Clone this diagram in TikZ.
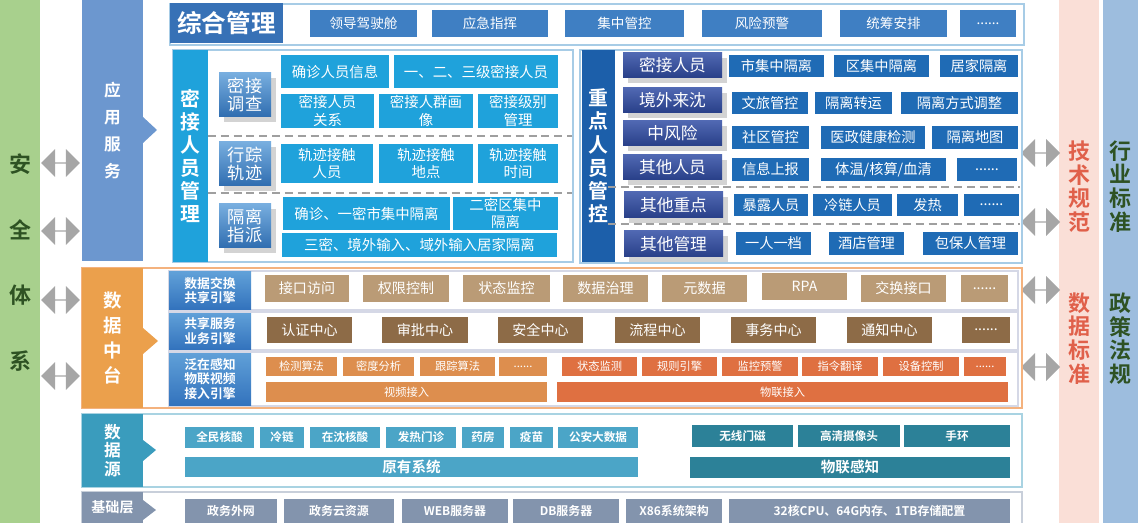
\documentclass[tikz,border=0pt]{standalone}
\usepackage{fontspec}
\setmainfont{Noto Sans CJK SC}[BoldFont={Noto Sans CJK SC Bold}]
\usetikzlibrary{shapes.arrows, shadows}

\definecolor{appblue}{HTML}{6C97CF}
\definecolor{dporange}{HTML}{EBA04C}
\definecolor{srcteal}{HTML}{3A9CBD}
\definecolor{baseslate}{HTML}{8394AD}
\definecolor{safegreen}{HTML}{A8D08D}
\definecolor{safetext}{HTML}{2E5223}
\definecolor{techpink}{HTML}{FADFD7}
\definecolor{techred}{HTML}{E0604A}
\definecolor{policyblue}{HTML}{9DBDDE}
\definecolor{zhblue}{HTML}{3771B6}
\definecolor{topblue}{HTML}{3F7FC3}
\definecolor{framelblue}{HTML}{A7CCE6}
\definecolor{skyblue}{HTML}{1FA2DB}
\definecolor{lsubtop}{HTML}{78AEDF}
\definecolor{lsubbot}{HTML}{2F6DB0}
\definecolor{zdbar}{HTML}{1C5FAA}
\definecolor{rboxblue}{HTML}{1F6BB5}
\definecolor{rsubtop}{HTML}{5068B2}
\definecolor{rsubbot}{HTML}{283F88}
\definecolor{engtop}{HTML}{60A0D8}
\definecolor{engbot}{HTML}{3373BD}
\definecolor{tan}{HTML}{BA9B76}
\definecolor{brown}{HTML}{8D6B47}
\definecolor{algorange}{HTML}{DD8E4E}
\definecolor{iotorange}{HTML}{DF7041}
\definecolor{dpframe}{HTML}{F4B27E}
\definecolor{rowframe}{HTML}{D5D8E6}
\definecolor{srcbox}{HTML}{4BA5C7}
\definecolor{iotsrc}{HTML}{2C8198}
\definecolor{srcframe}{HTML}{A9D3E2}
\definecolor{baseframe}{HTML}{C8CFDA}
\definecolor{arrowgray}{HTML}{A6A6A6}

\begin{document}
\begin{tikzpicture}[
	x=0.02cm, y=-0.02cm,
	wh/.style 2 args={minimum width=#1*0.02cm, minimum height=#2*0.02cm},
	cell/.style={anchor=north west, inner sep=0pt, outer sep=0pt, align=center, text=white},
	layerbar/.style={cell, fill=#1, font=\bfseries\fontsize{9.5}{15.3}\selectfont},
	sidetext/.style={align=center, inner sep=0pt, font=\bfseries\fontsize{12.5}{13.5}\selectfont},
	topbox/.style={cell, fill=topblue, font=\fontsize{7.7}{9}\selectfont},
	groupbar/.style={cell, fill=#1, font=\bfseries\fontsize{11.3}{13.2}\selectfont},
	lsub/.style={cell, top color=lsubtop, bottom color=lsubbot, drop shadow={opacity=0.35}, font=\fontsize{9.8}{10.5}\selectfont},
	lbox/.style={cell, fill=skyblue, font=\fontsize{8.2}{9.8}\selectfont},
	rsub/.style={cell, top color=rsubtop, bottom color=rsubbot, drop shadow={opacity=0.35}, font=\fontsize{9.5}{11}\selectfont},
	rbox/.style={cell, fill=rboxblue, font=\fontsize{8.1}{9.5}\selectfont},
	engine/.style={cell, top color=engtop, bottom color=engbot, font=\bfseries\fontsize{7.3}{8.4}\selectfont},
	tanbox/.style={cell, fill=tan, font=\fontsize{8}{9.5}\selectfont},
	brownbox/.style={cell, fill=brown, font=\fontsize{8}{9.5}\selectfont},
	algbox/.style={cell, fill=algorange, font=\fontsize{6.4}{7.5}\selectfont},
	iotbox/.style={cell, fill=iotorange, font=\fontsize{6.4}{7.5}\selectfont},
	srcitem/.style={cell, fill=#1, font=\bfseries\fontsize{6.6}{7.5}\selectfont},
	srcbar/.style={cell, fill=#1, font=\bfseries\fontsize{8.3}{9.5}\selectfont},
	basebox/.style={cell, fill=baseslate, font=\bfseries\fontsize{6.8}{8}\selectfont},
	darrow/.style={double arrow, fill=arrowgray, inner sep=0pt, minimum width=0.56cm, double arrow head extend=0.15cm, minimum height=0.78cm},
	splitline/.style={gray!75, line width=1.1pt, dash pattern=on 4.5pt off 2.8pt}
	]
	\useasboundingbox (0,0) rectangle (1138,523);
	
	% Side strips
	\fill[safegreen] (0,0) rectangle (40,523);
	\fill[techpink] (1059,0) rectangle (1099,523);
	\fill[policyblue] (1103,0) rectangle (1138,523);
	\node (safety) [sidetext, text=safetext, font=\bfseries\fontsize{12.5}{37.4}\selectfont] at (20,262.5) {安\\全\\体\\系};
	\node (techspec) [sidetext, text=techred] at (1079,186.5) {技\\术\\规\\范};
	\node (datastd) [sidetext, text=techred] at (1079,338.5) {数\\据\\标\\准};
	\node (industry) [sidetext, text=safetext] at (1120,186.5) {行\\业\\标\\准};
	\node (policy) [sidetext, text=safetext] at (1120,338.5) {政\\策\\法\\规};
	
	% Double arrows
	\node (la1) [darrow] at (60.5,163) {};
	\node (la2) [darrow] at (60.5,231) {};
	\node (la3) [darrow] at (60.5,300) {};
	\node (la4) [darrow] at (60.5,376) {};
	\node (ra1) [darrow] at (1040.5,153) {};
	\node (ra2) [darrow] at (1040.5,222) {};
	\node (ra3) [darrow] at (1040.5,290) {};
	\node (ra4) [darrow] at (1040.5,367) {};
	
	% Layer bars
	\draw[dpframe, line width=1pt] (82,268) rectangle (1022,408);
	\draw[srcframe, line width=1pt] (82,414) rectangle (1022,487);
	\draw[baseframe, line width=1pt] (82,492) rectangle (1022,530);
	\node (appsvc) [layerbar=appblue, wh={61}{261}] at (82,0) {应\\用\\服\\务};
	\node (dataplat) [layerbar=dporange, wh={61}{140}, font=\bfseries\fontsize{10.5}{14.2}\selectfont] at (82,268) {数\\据\\中\\台};
	\node (datasrc) [layerbar=srcteal, wh={61}{73}, font=\bfseries\fontsize{9.5}{10.5}\selectfont] at (82,414) {数\\据\\源};
	\node (baselayer) [layerbar=baseslate, wh={61}{31}, font=\bfseries\fontsize{8}{9}\selectfont] at (82,492) {基础层};
	\fill[appblue] (143,117) -- (157,130) -- (143,143) -- cycle;
	\fill[dporange] (143,328) -- (158,341) -- (143,354) -- cycle;
	\fill[srcteal] (143,440) -- (156,450) -- (143,461) -- cycle;
	\fill[baseslate] (143,500) -- (156,510) -- (143,520) -- cycle;
	
	% Top row
	\draw[framelblue, line width=0.9pt] (170,4) rectangle (1024,45);
	\node (mgmt) [cell, fill=zhblue, wh={113}{40}, font=\bfseries\fontsize{14}{16}\selectfont] at (170,3) {综合管理};
	\node (cockpit) [topbox, wh={107}{27}] at (310,10) {领导驾驶舱};
	\node (command) [topbox, wh={116}{27}] at (432,10) {应急指挥};
	\node (control) [topbox, wh={119}{27}] at (565,10) {集中管控};
	\node (warning) [topbox, wh={120}{27}] at (702,10) {风险预警};
	\node (plan) [topbox, wh={107}{27}] at (840,10) {统筹安排};
	\node (topmore) [topbox, wh={56}{27}] at (960,10) {......};
	
	% Close contacts panel
	\draw[framelblue, line width=0.9pt] (173,50) rectangle (573,262);
	\node (contacts) [groupbar=skyblue, wh={35}{212}] at (173,50) {密\\接\\人\\员\\管\\理};
	\draw[splitline] (208,136) -- (572,136);
	\draw[splitline] (208,193) -- (572,193);
	\node (survey) [lsub, wh={52}{44}] at (219,73) {密接\\调查};
	\node (track) [lsub, wh={52}{44}] at (219,142) {行踪\\轨迹};
	\node (assign) [lsub, wh={52}{44}] at (219,204) {隔离\\指派};
	\node (caseinfo) [lbox, wh={108}{33}] at (281,55) {确诊人员信息};
	\node (levels) [lbox, wh={164}{33}] at (394,55) {一、二、三级密接人员};
	\node (relation) [lbox, wh={93}{34}] at (281,94) {密接人员\\关系};
	\node (portrait) [lbox, wh={94}{34}] at (379,94) {密接人群画\\像};
	\node (grade) [lbox, wh={80}{34}] at (478,94) {密接级别\\管理};
	\node (tperson) [lbox, wh={92}{39}] at (281,144) {轨迹接触\\人员};
	\node (tplace) [lbox, wh={94}{39}] at (379,144) {轨迹接触\\地点};
	\node (ttime) [lbox, wh={80}{39}] at (478,144) {轨迹接触\\时间};
	\node (cityiso) [lbox, wh={167}{33}] at (283,197) {确诊、一密市集中隔离};
	\node (distiso) [lbox, wh={105}{33}] at (453,197) {二密区集中\\隔离};
	\node (homeiso) [lbox, wh={275}{24}] at (282,233) {三密、境外输入、域外输入居家隔离};
	
	% Key persons panel
	\draw[framelblue, line width=0.9pt] (580,50) rectangle (1022,263);
	\node (keyppl) [groupbar=zdbar, wh={33}{212}] at (582,50) {重\\点\\人\\员\\管\\控};
	\draw[splitline] (608,187) -- (1020,187);
	\draw[splitline] (608,224) -- (1020,224);
	\node (kcontact) [rsub, wh={99}{25}] at (623,53) {密接人员};
	\node (inbound) [rsub, wh={99}{25}] at (623,88) {境外来沈};
	\node (midrisk) [rsub, wh={99}{25}] at (623,121) {中风险};
	\node (others) [rsub, wh={99}{25}] at (623,155) {其他人员};
	\node (otherkey) [rsub, wh={99}{26}] at (624,192) {其他重点};
	\node (othermgmt) [rsub, wh={99}{26}] at (624,231) {其他管理};
	\node (cityq) [rbox, wh={95}{22}] at (729,55) {市集中隔离};
	\node (distq) [rbox, wh={95}{22}] at (834,55) {区集中隔离};
	\node (homeq) [rbox, wh={78}{22}] at (940,55) {居家隔离};
	\node (tourism) [rbox, wh={76}{22}] at (732,92) {文旅管控};
	\node (transfer) [rbox, wh={77}{22}] at (815,92) {隔离转运};
	\node (adjust) [rbox, wh={117}{22}] at (901,92) {隔离方式调整};
	\node (community) [rbox, wh={77}{23}] at (732,126) {社区管控};
	\node (health) [rbox, wh={104}{23}] at (821,126) {医政健康检测};
	\node (isomap) [rbox, wh={86}{23}] at (932,126) {隔离地图};
	\node (report) [rbox, wh={77}{23}] at (732,158) {信息上报};
	\node (tests) [rbox, wh={125}{23}] at (821,158) {体温/核算/血清};
	\node (othmore) [rbox, wh={60}{23}] at (957,158) {......};
	\node (exposed) [rbox, wh={74}{22}] at (734,194) {暴露人员};
	\node (coldchain) [rbox, wh={79}{22}] at (813,194) {冷链人员};
	\node (fever) [rbox, wh={61}{22}] at (897,194) {发热};
	\node (keymore) [rbox, wh={55}{22}] at (964,194) {......};
	\node (archive) [rbox, wh={75}{23}] at (736,232) {一人一档};
	\node (hotel) [rbox, wh={75}{23}] at (829,232) {酒店管理};
	\node (guardian) [rbox, wh={95}{23}] at (923,232) {包保人管理};
	
	% Data platform
	\draw[rowframe, line width=0.6pt] (169,271) rectangle (1018,310);
	\draw[rowframe, line width=0.6pt] (169,312) rectangle (1018,350);
	\draw[rowframe, line width=0.6pt] (169,352) rectangle (1018,406);
	\node (exchange) [engine, wh={82}{37}] at (169,272) {数据交换\\共享引擎};
	\node (sharesvc) [engine, wh={82}{36}] at (169,313) {共享服务\\业务引擎};
	\node (sensing) [engine, wh={82}{52}] at (169,353) {泛在感知\\物联视频\\接入引擎};
	\node (ifaccess) [tanbox, wh={84}{27}] at (265,275) {接口访问};
	\node (authz) [tanbox, wh={86}{27}] at (363,275) {权限控制};
	\node (statmon) [tanbox, wh={87}{27}] at (463,275) {状态监控};
	\node (govern) [tanbox, wh={85}{27}] at (563,275) {数据治理};
	\node (metadata) [tanbox, wh={85}{27}] at (662,275) {元数据};
	\node (rpa) [tanbox, wh={85}{27}] at (762,273) {RPA};
	\node (swapif) [tanbox, wh={85}{27}] at (861,275) {交换接口};
	\node (exmore) [tanbox, wh={47}{27}] at (961,275) {......};
	\node (authc) [brownbox, wh={85}{26}] at (267,317) {认证中心};
	\node (approve) [brownbox, wh={86}{26}] at (382,317) {审批中心};
	\node (security) [brownbox, wh={85}{26}] at (498,317) {安全中心};
	\node (workflow) [brownbox, wh={85}{26}] at (615,317) {流程中心};
	\node (affairs) [brownbox, wh={85}{26}] at (731,317) {事务中心};
	\node (notify) [brownbox, wh={85}{26}] at (847,317) {通知中心};
	\node (svcmore) [brownbox, wh={48}{26}] at (962,317) {......};
	\node (detect) [algbox, wh={71}{19}] at (266,357) {检测算法};
	\node (density) [algbox, wh={71}{19}] at (343,357) {密度分析};
	\node (tracking) [algbox, wh={75}{19}] at (420,357) {跟踪算法};
	\node (algmore) [algbox, wh={48}{19}] at (499,357) {......};
	\node (stat) [iotbox, wh={75}{19}] at (562,357) {状态监测};
	\node (rules) [iotbox, wh={75}{19}] at (642,357) {规则引擎};
	\node (alarm) [iotbox, wh={76}{19}] at (722,357) {监控预警};
	\node (translate) [iotbox, wh={76}{19}] at (802,357) {指令翻译};
	\node (device) [iotbox, wh={76}{19}] at (883,357) {设备控制};
	\node (iotmore) [iotbox, wh={42}{19}] at (964,357) {......};
	\node (video) [algbox, wh={281}{20}] at (266,382) {视频接入};
	\node (iotin) [iotbox, wh={451}{20}] at (557,382) {物联接入};
	
	% Data sources
	\node (nat) [srcitem=srcbox, wh={69}{21}] at (185,427) {全民核酸};
	\node (cold) [srcitem=srcbox, wh={44}{21}] at (260,427) {冷链};
	\node (localnat) [srcitem=srcbox, wh={70}{21}] at (310,427) {在沈核酸};
	\node (clinic) [srcitem=srcbox, wh={70}{21}] at (386,427) {发热门诊};
	\node (pharmacy) [srcitem=srcbox, wh={42}{21}] at (462,427) {药房};
	\node (vaccine) [srcitem=srcbox, wh={43}{21}] at (510,427) {疫苗};
	\node (police) [srcitem=srcbox, wh={80}{21}] at (558,427) {公安大数据};
	\node (legacy) [srcbar=srcbox, wh={453}{20}] at (185,457) {原有系统};
	\node (doorsensor) [srcitem=iotsrc, wh={101}{22}] at (692,425) {无线门磁};
	\node (camera) [srcitem=iotsrc, wh={102}{22}] at (798,425) {高清摄像头};
	\node (band) [srcitem=iotsrc, wh={106}{22}] at (904,425) {手环};
	\node (iotsense) [srcbar=iotsrc, wh={320}{21}] at (690,457) {物联感知};
	
	% Base layer
	\node (extnet) [basebox, wh={92}{24}] at (185,499) {政务外网};
	\node (cloud) [basebox, wh={110}{24}] at (284,499) {政务云资源};
	\node (web) [basebox, wh={106}{24}] at (402,499) {WEB服务器};
	\node (db) [basebox, wh={106}{24}] at (513,499) {DB服务器};
	\node (x86) [basebox, wh={96}{24}] at (626,499) {X86系统架构};
	\node (hw) [basebox, wh={281}{24}] at (729,499) {32核CPU、64G内存、1TB存储配置};
	
\end{tikzpicture}
\end{document}
